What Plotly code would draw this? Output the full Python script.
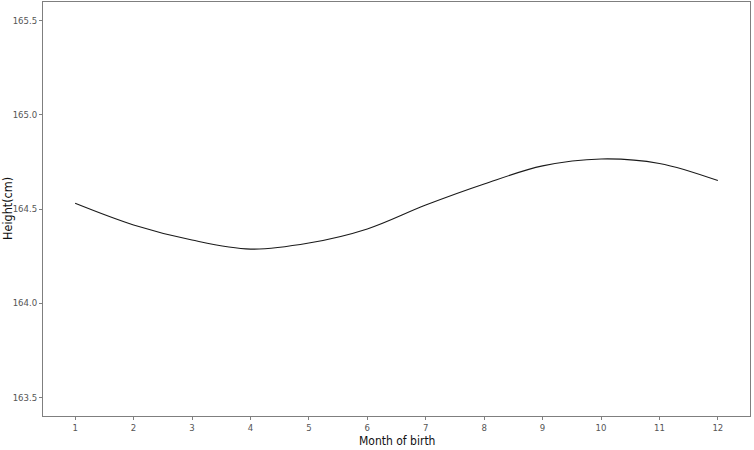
import plotly.graph_objects as go

# Month of birth vs. fitted height
months = [1, 2, 3, 4, 5, 6, 7, 8, 9, 10, 11, 12]
height_cm = [164.530, 164.415, 164.335, 164.287, 164.319, 164.394,
             164.521, 164.633, 164.729, 164.766, 164.742, 164.651]

x_ticks = months
y_ticks = [163.5, 164.0, 164.5, 165.0, 165.5]
y_tick_text = ["163.5", "164.0", "164.5", "165.0", "165.5"]

FONT = "DejaVu Sans Condensed, Liberation Sans Narrow, Arial Narrow, sans-serif"
GREY = "#555555"

fig = go.Figure(
    go.Scatter(
        x=months,
        y=height_cm,
        mode="lines",
        line=dict(color="#1a1a1a", width=1.1, shape="spline", smoothing=1.0),
        hoverinfo="x+y",
    )
)

axis_common = dict(
    showline=True,
    linecolor="#7f7f7f",
    linewidth=1,
    mirror=True,
    showgrid=False,
    zeroline=False,
    ticks="outside",
    ticklen=3,
    tickcolor="#7f7f7f",
    tickfont=dict(family=FONT, size=9.5, color=GREY),
    automargin=False,
)

fig.update_xaxes(range=[0.45, 12.55], tickvals=x_ticks, **axis_common)
fig.update_yaxes(range=[163.4, 165.6], tickvals=y_ticks, ticktext=y_tick_text, **axis_common)

# axis titles as annotations so they sit exactly where ggplot put them
fig.add_annotation(
    text="Height(cm)", textangle=-90, showarrow=False,
    xref="paper", yref="paper", x=0, y=0.5, xanchor="center", yanchor="middle",
    xshift=-36, font=dict(family=FONT, size=12.5, color="#111111"),
)
fig.add_annotation(
    text="Month of birth", showarrow=False,
    xref="paper", yref="paper", x=0.5, y=0, xanchor="center", yanchor="middle",
    yshift=-25, font=dict(family=FONT, size=12, color="#111111"),
)

fig.update_layout(
    width=754,
    height=450,
    margin=dict(l=43, r=4, t=2, b=34),
    paper_bgcolor="white",
    plot_bgcolor="white",
    showlegend=False,
)

fig.write_html(
    "out.html",
    config={"displayModeBar": False},
    post_script="document.body.style.margin='0';",
)
